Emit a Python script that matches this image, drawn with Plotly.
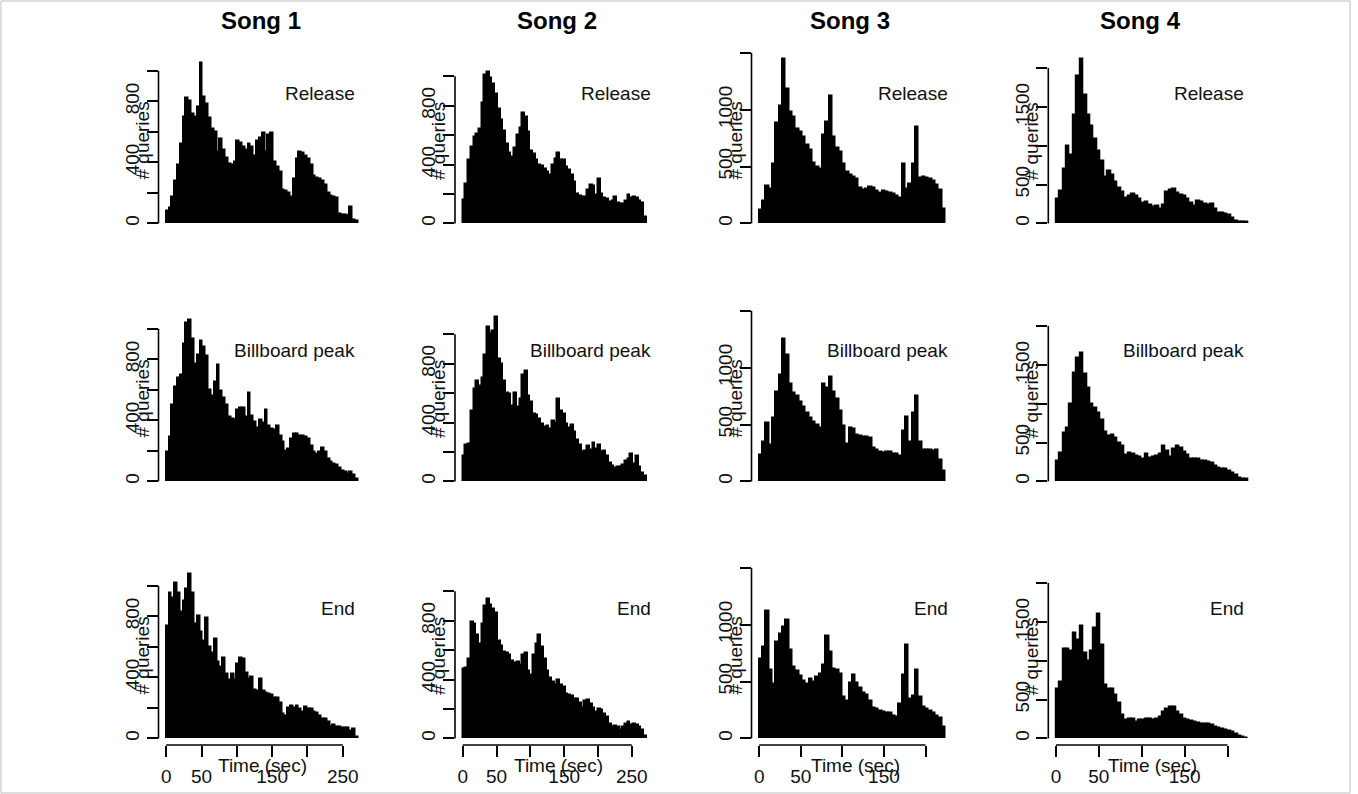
import plotly.graph_objects as go

FIG_W, FIG_H = 1358, 794
BIN = 4  # seconds per histogram bin

SONGS = ["Song 1", "Song 2", "Song 3", "Song 4"]
PHASES = ["Release", "Billboard peak", "End"]

# ---- number of queries per 4-second bin ----
song1_release = [80, 100, 170, 280, 380, 520, 700, 820, 800, 720, 700, 760, 1050, 830, 780, 690, 620, 600, 470, 550,
                 480, 430, 390, 380, 400, 540, 530, 500, 480, 520, 500, 440, 540, 560, 590, 470, 580, 590, 400, 370,
                 340, 220, 210, 200, 170, 290, 420, 470, 460, 440, 420, 380, 310, 300, 290, 280, 250, 200, 180, 175,
                 165, 60, 55, 55, 50, 110, 25, 15]
song1_billboard = [190, 290, 500, 620, 680, 700, 900, 1040, 1060, 930, 770, 830, 920, 880, 820, 600, 560, 650, 760, 590,
                   545, 500, 420, 410, 400, 470, 480, 480, 420, 580, 430, 390, 350, 400, 380, 470, 360, 345, 335, 360,
                   300, 260, 200, 210, 280, 310, 310, 300, 300, 290, 280, 230, 190, 180, 190, 220, 190, 150, 130, 115,
                   105, 85, 70, 60, 50, 60, 45, 15]
song1_end = [735, 950, 920, 1020, 950, 830, 900, 980, 1080, 950, 750, 800, 700, 640, 790, 600, 560, 650, 500, 470,
             530, 420, 380, 420, 380, 490, 530, 520, 430, 390, 400, 320, 310, 390, 310, 300, 290, 285, 265, 265,
             230, 160, 150, 200, 215, 200, 210, 190, 175, 205, 190, 195, 175, 165, 145, 130, 130, 110, 78, 85,
             78, 78, 70, 70, 65, 50, 60, 10]

song2_release = [160, 270, 430, 520, 590, 610, 640, 820, 1010, 1030, 990, 950, 880, 780, 700, 630, 540, 480, 450, 510,
                 600, 650, 750, 720, 620, 490, 470, 430, 400, 390, 370, 350, 330, 400, 440, 480, 430, 430, 380, 360,
                 330, 280, 200, 185, 180, 180, 230, 260, 255, 190, 300, 200, 175, 165, 145, 150, 180, 140, 135, 135,
                 150, 190, 175, 180, 170, 150, 140, 45]
song2_billboard = [170, 245, 255, 480, 630, 680, 650, 700, 860, 1050, 1000, 1020, 1120, 830, 800, 680, 600, 595, 515, 600,
                   505, 560, 720, 750, 580, 540, 460, 450, 425, 390, 370, 375, 355, 410, 400, 560, 480, 460, 390, 360,
                   380, 335, 280, 250, 200, 210, 240, 215, 260, 220, 250, 200, 210, 170, 125, 105, 90, 95, 100, 110,
                   140, 150, 185, 120, 175, 100, 60, 35]
song2_end = [470, 480, 540, 790, 780, 700, 640, 780, 900, 950, 910, 880, 850, 660, 630, 590, 580, 570, 525, 510,
             520, 500, 570, 580, 460, 430, 570, 640, 700, 620, 540, 460, 410, 385, 365, 400, 360, 350, 305, 295,
             285, 270, 265, 240, 210, 255, 260, 235, 205, 180, 200, 190, 165, 145, 100, 80, 85, 75, 60, 80,
             95, 110, 90, 100, 90, 75, 60, 15]

song3_release = [120, 200, 330, 300, 520, 880, 1030, 1450, 1180, 980, 940, 830, 800, 760, 690, 650, 535, 495, 480, 780,
                 890, 1120, 760, 660, 630, 520, 450, 430, 410, 390, 315, 290, 300, 320, 310, 285, 265, 285, 275, 270,
                 255, 240, 225, 520, 300, 350, 520, 850, 400, 410, 400, 395, 370, 340, 290, 130]
song3_billboard = [230, 350, 510, 320, 560, 790, 940, 1250, 1115, 860, 775, 750, 700, 655, 600, 560, 520, 500, 470, 860,
                   820, 920, 790, 725, 620, 490, 330, 470, 460, 410, 400, 395, 390, 380, 290, 275, 260, 250, 260, 255,
                   245, 245, 220, 440, 570, 350, 600, 750, 350, 280, 275, 275, 265, 275, 190, 90]
song3_end = [700, 800, 1120, 600, 480, 850, 920, 980, 1040, 780, 630, 595, 550, 505, 480, 520, 500, 540, 570, 650,
             900, 760, 610, 600, 570, 360, 330, 490, 560, 490, 440, 400, 380, 330, 270, 255, 240, 230, 225, 220,
             200, 185, 300, 560, 820, 350, 370, 600, 360, 275, 255, 240, 225, 200, 180, 100]

song4_release = [320, 420, 700, 1000, 880, 1400, 1900, 2120, 1650, 1400, 1250, 1080, 930, 800, 600, 670, 620, 530, 460, 400,
                 330, 350, 380, 350, 320, 260, 280, 235, 215, 220, 185, 240, 400, 430, 440, 390, 370, 350, 320, 260,
                 220, 290, 270, 255, 240, 250, 180, 135, 130, 125, 105, 65, 25, 20, 20, 20]
song4_billboard = [260, 360, 620, 690, 1000, 1400, 1590, 1650, 1380, 1200, 990, 940, 880, 790, 640, 580, 600, 560, 500, 450,
                   340, 370, 355, 330, 310, 290, 350, 300, 310, 330, 355, 460, 395, 320, 420, 455, 430, 375, 340, 290,
                   290, 285, 265, 260, 245, 240, 200, 175, 160, 155, 130, 105, 85, 40, 30, 25]
song4_end = [640, 720, 1150, 1150, 1130, 1350, 1260, 1450, 1100, 990, 1120, 1420, 1600, 1200, 690, 630, 640, 560, 450, 300,
             240, 255, 250, 215, 235, 235, 255, 255, 235, 250, 280, 345, 380, 405, 410, 340, 300, 255, 235, 230,
             215, 195, 190, 190, 185, 170, 150, 130, 125, 105, 100, 80, 55, 30, 15, 10]

SERIES = [
    [song1_release, song1_billboard, song1_end],
    [song2_release, song2_billboard, song2_end],
    [song3_release, song3_billboard, song3_end],
    [song4_release, song4_billboard, song4_end],
]

SONG_LENGTH = [272, 284, 231, 224]  # seconds; sets x-axis range

X_TICKS = [[0, 50, 100, 150, 200, 250], [0, 50, 100, 150, 200, 250],
           [0, 50, 100, 150, 200], [0, 50, 100, 150, 200]]
X_LABELS = [["0", "50", "", "150", "", "250"], ["0", "50", "", "150", "", "250"],
            ["0", "50", "", "150", ""], ["0", "50", "", "150", ""]]
Y_TICKS = [[0, 200, 400, 600, 800, 1000], [0, 200, 400, 600, 800, 1000],
           [0, 500, 1000, 1500], [0, 500, 1000, 1500, 2000]]
Y_LABELS = [["0", "", "400", "", "800", ""], ["0", "", "400", "", "800", ""],
            ["0", "500", "1000", ""], ["0", "500", "", "1500", ""]]

X_TITLE = "Time (sec)"
Y_TITLE = "# queries"

# ---- layout in pixels ----
COL_LEFT = [158.5, 455.0, 751.5, 1048.3]
PLOT_W = 207.5
ROW_TOP = [52, 310, 567]
PLOT_H = 178
TITLE_X = [261, 557, 850, 1140]
TITLE_Y = 20

FONT = "Liberation Sans, Arial, Helvetica, sans-serif"
TXT = "#111111"
FS = 19


def fx(px):
    return px / FIG_W


def fy(py):
    return 1 - py / FIG_H


fig = go.Figure()
layout = {}
shapes = []
annotations = []

for c in range(4):
    ymax = max(max(s) for s in SERIES[c])
    T = SONG_LENGTH[c]
    left = COL_LEFT[c]
    for r in range(3):
        k = r * 4 + c + 1
        sfx = "" if k == 1 else str(k)
        vals = SERIES[c][r]
        xs = [BIN * i + BIN / 2 for i in range(len(vals))]
        fig.add_trace(go.Bar(
            x=xs, y=vals, width=BIN,
            marker=dict(color="black", line=dict(color="black", width=1.5)),
            xaxis="x" + sfx, yaxis="y" + sfx, showlegend=False, hoverinfo="x+y",
        ))
        top = ROW_TOP[r]
        bottom_row = (r == 2)
        layout["xaxis" + sfx] = dict(
            domain=[fx(left), fx(left + PLOT_W)],
            range=[-0.04 * T, 1.04 * T],
            anchor="y" + sfx,
            showgrid=False, zeroline=False, showline=False,
            ticks="outside" if bottom_row else "",
            showticklabels=bottom_row,
            tickmode="array", tickvals=X_TICKS[c], ticktext=X_LABELS[c],
            ticklen=11, tickwidth=1.5, tickcolor="black",
            tickfont=dict(size=FS, color=TXT, family=FONT),
            ticklabelstandoff=3,
            fixedrange=True,
        )
        layout["yaxis" + sfx] = dict(
            domain=[fy(top + PLOT_H), fy(top)],
            range=[-0.04 * ymax, 1.04 * ymax],
            anchor="x" + sfx,
            showgrid=False, zeroline=False, showline=False,
            ticks="outside",
            tickmode="array", tickvals=Y_TICKS[c], ticktext=Y_LABELS[c],
            tickangle=-90,
            ticklen=11, tickwidth=1.5, tickcolor="black",
            tickfont=dict(size=FS, color=TXT, family=FONT),
            fixedrange=True,
        )
        # R-style axis line spanning first to last tick
        shapes.append(dict(type="line", xref=f"x{sfx} domain", x0=0, x1=0,
                           yref="y" + sfx, y0=Y_TICKS[c][0], y1=Y_TICKS[c][-1],
                           line=dict(color="black", width=1.6)))
        if bottom_row:
            shapes.append(dict(type="line", xref="x" + sfx, x0=X_TICKS[c][0], x1=X_TICKS[c][-1],
                               yref=f"y{sfx} domain", y0=0, y1=0,
                               line=dict(color="black", width=1.6)))
            annotations.append(dict(text=X_TITLE, x=fx(left + PLOT_W / 2), y=fy(765),
                                    xref="paper", yref="paper", showarrow=False,
                                    xanchor="center", yanchor="middle",
                                    font=dict(size=FS, color=TXT, family=FONT)))
        # phase label
        annotations.append(dict(text=PHASES[r], x=fx(left + PLOT_W - 9.5), y=fy(top + 41),
                                xref="paper", yref="paper", showarrow=False,
                                xanchor="right", yanchor="middle",
                                font=dict(size=FS, color=TXT, family=FONT)))
        # y title
        annotations.append(dict(text=Y_TITLE, x=fx(left - 17), y=fy(top + PLOT_H / 2),
                                xref="paper", yref="paper", showarrow=False,
                                textangle=-90, xanchor="center", yanchor="middle",
                                font=dict(size=FS, color=TXT, family=FONT)))
    annotations.append(dict(text="<b>" + SONGS[c] + "</b>", x=fx(TITLE_X[c]), y=fy(TITLE_Y),
                            xref="paper", yref="paper", showarrow=False,
                            xanchor="center", yanchor="middle",
                            font=dict(size=24, color="black", family=FONT)))

# thin frame around the whole figure
shapes.append(dict(type="rect", xref="paper", yref="paper",
                   x0=fx(1), x1=fx(1350), y0=fy(793), y1=fy(1),
                   line=dict(color="#bdbdbd", width=1), fillcolor="rgba(0,0,0,0)", layer="below"))

fig.update_layout(
    width=FIG_W, height=FIG_H,
    margin=dict(l=0, r=0, t=0, b=0),
    paper_bgcolor="white", plot_bgcolor="white",
    bargap=0, showlegend=False,
    shapes=shapes, annotations=annotations,
    **layout,
)

fig.write_html("out.html", config={"displayModeBar": False},
               post_script="document.body.style.margin='0px';")
